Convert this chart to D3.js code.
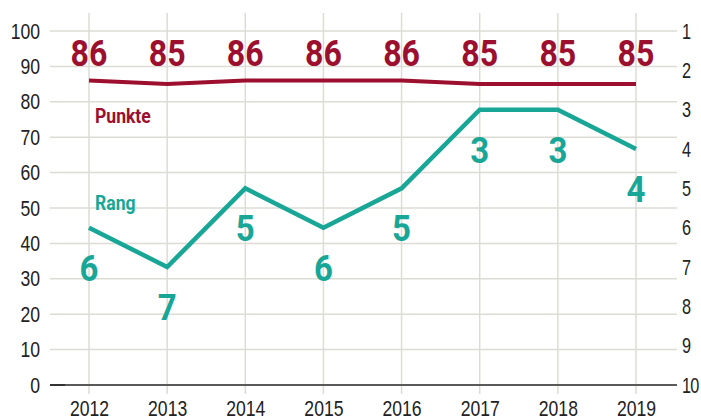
<!DOCTYPE html>
<html><head><meta charset="utf-8">
<script src="https://cdn.jsdelivr.net/npm/d3@7"></script>
<style>
html,body{margin:0;padding:0;background:#fff;}
svg{display:block;font-family:"Roboto",sans-serif;}
</style></head>
<body><svg id="c" width="701" height="419"></svg>
<script>
const years = [2012, 2013, 2014, 2015, 2016, 2017, 2018, 2019];
const punkte = [86, 85, 86, 86, 86, 85, 85, 85];
const rang = [6, 7, 5, 6, 5, 3, 3, 4];
const leftTicks = [0, 10, 20, 30, 40, 50, 60, 70, 80, 90, 100];
const rightTicks = [1, 2, 3, 4, 5, 6, 7, 8, 9, 10];

const svg = d3.select("#c");
const x = d3.scalePoint().domain(years).range([89, 636]);
const yL = d3.scaleLinear().domain([0, 100]).range([385, 31]);
const yR = d3.scaleLinear().domain([1, 10]).range([31, 385]);
const gridC = "#dddcd4";
const red = "#9c0f2e";
const teal = "#18a696";
const SX = 0.8;

// vertical grid
svg.append("g").selectAll("line").data(years).join("line")
  .attr("x1", d => x(d)).attr("x2", d => x(d))
  .attr("y1", 13).attr("y2", 394)
  .attr("stroke", gridC).attr("stroke-width", 1.5);
// horizontal grid
svg.append("g").selectAll("line").data(leftTicks.filter(d => d > 0)).join("line")
  .attr("x1", 50).attr("x2", 677)
  .attr("y1", d => yL(d)).attr("y2", d => yL(d))
  .attr("stroke", gridC).attr("stroke-width", 1.5);
// baseline
svg.append("line").attr("x1", 50).attr("x2", 677)
  .attr("y1", yL(0)).attr("y2", yL(0))
  .attr("stroke", "#5a5a5a").attr("stroke-width", 1.8);
svg.append("line").attr("x1", 50).attr("x2", 65)
  .attr("y1", yL(0)).attr("y2", yL(0))
  .attr("stroke", "#333").attr("stroke-width", 2);

// left axis
const gl = svg.append("g").attr("transform", "translate(40,0)")
  .call(d3.axisLeft(yL).tickValues(leftTicks).tickSize(0).tickPadding(0));
gl.select(".domain").remove();
gl.selectAll("text").attr("font-size", 22).attr("fill", "#222").attr("font-family", "inherit")
  .attr("transform", `scale(${SX},1)`);

// right axis
const gr = svg.append("g").attr("transform", "translate(682,0)")
  .call(d3.axisRight(yR).tickValues(rightTicks).tickSize(0).tickPadding(0));
gr.select(".domain").remove();
gr.selectAll("text").attr("font-size", 22).attr("fill", "#222").attr("font-family", "inherit")
  .attr("letter-spacing", -1)
  .attr("transform", `scale(0.74,1)`);

// bottom axis
const gb = svg.append("g").attr("transform", "translate(0,416)")
  .call(d3.axisBottom(x).tickSize(0).tickPadding(0));
gb.select(".domain").remove();
gb.selectAll("text").attr("font-size", 22).attr("fill", "#222").attr("font-family", "inherit")
  .attr("y", 0).attr("dy", 0).attr("transform", `scale(${SX},1)`);

// lines
const data = years.map((y, i) => ({year: y, p: punkte[i], r: rang[i]}));
svg.append("path").datum(data)
  .attr("d", d3.line().x(d => x(d.year)).y(d => yL(d.p)))
  .attr("fill", "none").attr("stroke", red).attr("stroke-width", 4).attr("stroke-linejoin", "round");
svg.append("path").datum(data)
  .attr("d", d3.line().x(d => x(d.year)).y(d => yR(d.r)))
  .attr("fill", "none").attr("stroke", teal).attr("stroke-width", 4.5).attr("stroke-linejoin", "miter");

// value labels
svg.append("g").selectAll("text").data(data).join("text")
  .attr("transform", d => `translate(${x(d.year)},66) scale(0.88,1)`)
  .attr("text-anchor", "middle").attr("font-size", 36.5).attr("font-weight", "bold")
  .attr("fill", red).text(d => d.p);
svg.append("g").selectAll("text").data(data).join("text")
  .attr("transform", d => `translate(${x(d.year)},${yR(d.r) + 53}) scale(0.88,1)`)
  .attr("text-anchor", "middle").attr("font-size", 37.5).attr("font-weight", "bold")
  .attr("fill", teal).text(d => d.r);

svg.append("text").attr("transform", "translate(95,123) scale(0.9,1)")
  .attr("font-size", 19.5).attr("font-weight", "bold").attr("fill", red).text("Punkte");
svg.append("text").attr("transform", "translate(95,210) scale(0.9,1)")
  .attr("font-size", 19.5).attr("font-weight", "bold").attr("fill", teal).text("Rang");
</script></body></html>
